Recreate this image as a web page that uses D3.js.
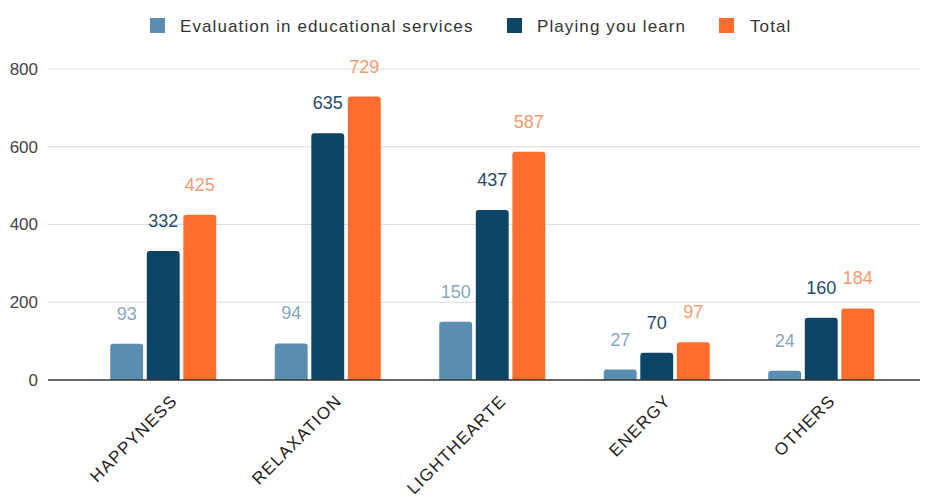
<!DOCTYPE html>
<html>
<head>
<meta charset="utf-8">
<script src="https://cdn.jsdelivr.net/npm/d3@7"></script>
<style>
  html, body { margin: 0; padding: 0; background: #fff; }
  svg { display: block; }
  svg text { font-family: Arial, "Liberation Sans", Helvetica, sans-serif; }
</style>
</head>
<body>
<svg id="chart" width="925" height="497"></svg>
<script>
const categories = ["HAPPYNESS", "RELAXATION", "LIGHTHEARTE", "ENERGY", "OTHERS"];
const seriesNames = ["Evaluation in educational services", "Playing you learn", "Total"];
const evaluationValues = [93, 94, 150, 27, 24];
const playingValues = [332, 635, 437, 70, 160];
const totalValues = [425, 729, 587, 97, 184];
const yTicks = [0, 200, 400, 600, 800];

const barColors = ["#5b8db0", "#0c4566", "#ff6d2e"];
const labelColors = ["#86a8c0", "#1f4c6c", "#f59a70"];
const seriesValues = [evaluationValues, playingValues, totalValues];

const svg = d3.select("#chart");

const y = d3.scaleLinear().domain([0, 800]).range([380, 69]);
const x = d3.scalePoint().domain(categories).range([81, 903.5]).padding(0.5);
const xs = d3.scaleBand().domain(seriesNames).range([-53, 53]).paddingInner(0.1).paddingOuter(0);

// gridlines
svg.append("g").selectAll("line").data(yTicks.filter(d => d > 0)).join("line")
  .attr("x1", 48).attr("x2", 920)
  .attr("y1", d => y(d)).attr("y2", d => y(d))
  .attr("stroke", "#dcdcdc").attr("stroke-width", 1);

// y axis labels
svg.append("g").selectAll("text").data(yTicks).join("text")
  .attr("x", 38).attr("y", d => y(d)).attr("dy", "0.35em")
  .attr("text-anchor", "end").attr("font-size", 17).attr("fill", "#444")
  .text(d => d);

// bars
function roundedTop(x0, y0, w, h, r) {
  r = Math.min(r, h, w / 2);
  return `M${x0},${y0 + h}V${y0 + r}Q${x0},${y0} ${x0 + r},${y0}H${x0 + w - r}Q${x0 + w},${y0} ${x0 + w},${y0 + r}V${y0 + h}Z`;
}

const rows = [];
categories.forEach((c, i) => {
  seriesNames.forEach((s, j) => {
    rows.push({ cat: c, series: s, j, value: seriesValues[j][i] });
  });
});

svg.append("g").selectAll("path").data(rows).join("path")
  .attr("d", d => {
    const x0 = x(d.cat) + xs(d.series);
    return roundedTop(x0, y(d.value), xs.bandwidth(), y(0) - y(d.value), 3);
  })
  .attr("fill", d => barColors[d.j]);

// value labels
svg.append("g").selectAll("text").data(rows).join("text")
  .attr("x", d => x(d.cat) + xs(d.series) + xs.bandwidth() / 2)
  .attr("y", d => y(d.value) - 24)
  .attr("text-anchor", "middle").attr("font-size", 18)
  .attr("fill", d => labelColors[d.j])
  .text(d => d.value);

// baseline
svg.append("line").attr("x1", 48).attr("x2", 920)
  .attr("y1", y(0)).attr("y2", y(0))
  .attr("stroke", "#333").attr("stroke-width", 1.3);

// x labels
svg.append("g").selectAll("text").data(categories).join("text")
  .attr("transform", d => `translate(${x(d) + 15},402) rotate(-45)`)
  .attr("text-anchor", "end").attr("font-size", 17).attr("letter-spacing", 1.2)
  .attr("fill", "#222")
  .text(d => d);

// legend
const legendItems = [
  { name: seriesNames[0], sq: 150, tx: 180 },
  { name: seriesNames[1], sq: 507, tx: 537 },
  { name: seriesNames[2], sq: 719, tx: 750 }
];
const lg = svg.append("g");
legendItems.forEach((it, i) => {
  lg.append("rect").attr("x", it.sq).attr("y", 18).attr("width", 15).attr("height", 15)
    .attr("fill", barColors[i]);
  lg.append("text").attr("x", it.tx).attr("y", 26).attr("dy", "0.35em")
    .attr("font-size", 17).attr("letter-spacing", 1.1).attr("fill", "#333")
    .text(it.name);
});
</script>
</body>
</html>
